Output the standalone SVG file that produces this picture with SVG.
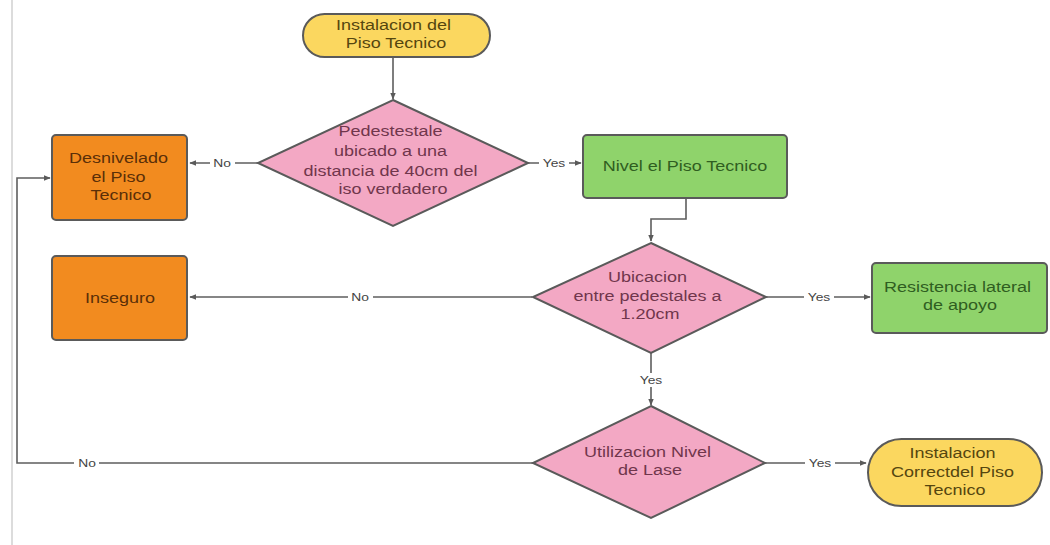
<svg xmlns="http://www.w3.org/2000/svg" width="1050" height="545" viewBox="0 0 1050 545">
  <defs>
    <marker id="arr" viewBox="0 0 10 10" refX="9" refY="5" markerWidth="7" markerHeight="7" orient="auto" markerUnits="userSpaceOnUse">
      <path d="M0,1 L10,5 L0,9 Z" fill="#5a5a5a"/>
    </marker>
    <style>
      .edge { fill: none; stroke: #5e5e5e; stroke-width: 1.6; }
      .shape { stroke: #5a5a5a; stroke-width: 2; }
      .term { fill: #fbd75f; }
      .dec { fill: #f3a8c4; }
      .proc { fill: #8fd36b; }
      .warn { fill: #f28b1f; }
      .t { font-family: "Liberation Sans", Arial, sans-serif; font-size: 15px; text-anchor: middle; }
      .tt { fill: #55460f; }
      .td { fill: #70364c; }
      .tp { fill: #2f5e21; }
      .tw { fill: #5a2f08; }
      .lbl { font-family: "Liberation Sans", Arial, sans-serif; font-size: 11.5px; fill: #444; text-anchor: middle; }
      .lblbg { fill: #ffffff; }
    </style>
  </defs>

  <rect width="1050" height="545" fill="#ffffff"/>
  <!-- page edge -->
  <line x1="12" y1="0" x2="12" y2="545" stroke="#dcdcdc" stroke-width="2"/>

  <!-- connectors -->
  <g id="connectors">
    <path class="edge" d="M393,57 L393,99" marker-end="url(#arr)"/>
    <path class="edge" d="M258,163 L190,163" marker-end="url(#arr)"/>
    <path class="edge" d="M528,163 L581,163" marker-end="url(#arr)"/>
    <path class="edge" d="M686,198 L686,219 L651,219 L651,241" marker-end="url(#arr)"/>
    <path class="edge" d="M532,297 L190,297" marker-end="url(#arr)"/>
    <path class="edge" d="M766,297 L870,297" marker-end="url(#arr)"/>
    <path class="edge" d="M651,353 L651,405" marker-end="url(#arr)"/>
    <path class="edge" d="M533,463 L17,463 L17,178 L50,178" marker-end="url(#arr)"/>
    <path class="edge" d="M765,463 L866,463" marker-end="url(#arr)"/>

    <rect class="lblbg" x="210" y="156" width="25" height="14"/>
    <text class="lbl" transform="translate(222 0) scale(1.2 1)" x="0" y="167">No</text>
    <rect class="lblbg" x="539" y="156" width="30" height="14"/>
    <text class="lbl" transform="translate(554 0) scale(1.2 1)" x="0" y="167">Yes</text>
    <rect class="lblbg" x="348" y="290" width="25" height="14"/>
    <text class="lbl" transform="translate(360 0) scale(1.2 1)" x="0" y="301">No</text>
    <rect class="lblbg" x="804" y="290" width="30" height="14"/>
    <text class="lbl" transform="translate(819 0) scale(1.2 1)" x="0" y="301">Yes</text>
    <rect class="lblbg" x="636" y="373" width="30" height="14"/>
    <text class="lbl" transform="translate(651 0) scale(1.2 1)" x="0" y="384">Yes</text>
    <rect class="lblbg" x="74" y="456" width="25" height="14"/>
    <text class="lbl" transform="translate(87 0) scale(1.2 1)" x="0" y="467">No</text>
    <rect class="lblbg" x="805" y="456" width="30" height="14"/>
    <text class="lbl" transform="translate(820 0) scale(1.2 1)" x="0" y="467">Yes</text>
  </g>

  <!-- start terminal -->
  <g id="start">
    <rect class="shape term" x="303" y="14" width="187" height="43" rx="21.5"/>
    <text class="t tt" transform="translate(396 0) scale(1.2 1)">
      <tspan x="0" y="30">Instalacion del</tspan>
      <tspan x="0" y="48">Piso Tecnico</tspan>
    </text>
  </g>

  <!-- decision: pedestal distance -->
  <g id="dec-distancia">
    <polygon class="shape dec" points="393,100 528,163 393,226 258,163"/>
    <text class="t td" transform="translate(393 0) scale(1.2 1)">
      <tspan x="0" y="136">Pedestestale</tspan>
      <tspan x="0" y="156">ubicado a una</tspan>
      <tspan x="0" y="176">distancia de 40cm del</tspan>
      <tspan x="0" y="194">iso verdadero</tspan>
    </text>
  </g>

  <!-- desnivelado -->
  <g id="desnivelado">
    <rect class="shape warn" x="52" y="135" width="135" height="85" rx="4"/>
    <text class="t tw" transform="translate(121 0) scale(1.2 1)">
      <tspan x="0" y="163">Desnivelado</tspan>
      <tspan x="0" y="182">el Piso</tspan>
      <tspan x="0" y="200">Tecnico</tspan>
    </text>
  </g>

  <!-- nivel -->
  <g id="nivel">
    <rect class="shape proc" x="583" y="135" width="204" height="63" rx="4"/>
    <text class="t tp" transform="translate(685 0) scale(1.2 1)">
      <tspan x="0" y="171">Nivel el Piso Tecnico</tspan>
    </text>
  </g>

  <!-- decision: spacing -->
  <g id="dec-ubicacion">
    <polygon class="shape dec" points="651,243 766,297 651,353 533,297"/>
    <text class="t td" transform="translate(650 0) scale(1.2 1)">
      <tspan x="0" y="282">Ubicacion</tspan>
      <tspan x="0" y="301">entre pedestales a</tspan>
      <tspan x="0" y="319">1.20cm</tspan>
    </text>
  </g>

  <!-- inseguro -->
  <g id="inseguro">
    <rect class="shape warn" x="52" y="256" width="135" height="84" rx="4"/>
    <text class="t tw" transform="translate(120 0) scale(1.2 1)">
      <tspan x="0" y="303">Inseguro</tspan>
    </text>
  </g>

  <!-- resistencia -->
  <g id="resistencia">
    <rect class="shape proc" x="872" y="263" width="175" height="70" rx="4"/>
    <text class="t tp" transform="translate(960 0) scale(1.2 1)">
      <tspan x="0" y="292">Resistencia lateral</tspan>
      <tspan x="0" y="310">de apoyo</tspan>
    </text>
  </g>

  <!-- decision: laser level -->
  <g id="dec-laser">
    <polygon class="shape dec" points="651,406 765,463 651,518 533,463"/>
    <text class="t td" transform="translate(650 0) scale(1.2 1)">
      <tspan x="0" y="457">Utilizacion Nivel</tspan>
      <tspan x="0" y="475">de Lase</tspan>
    </text>
  </g>

  <!-- end terminal -->
  <g id="end">
    <rect class="shape term" x="868" y="439" width="174" height="67" rx="33.5"/>
    <text class="t tt" transform="translate(955 0) scale(1.2 1)">
      <tspan x="0" y="458">Instalacion</tspan>
      <tspan x="0" y="477">Correctdel Piso</tspan>
      <tspan x="0" y="495">Tecnico</tspan>
    </text>
  </g>
</svg>
